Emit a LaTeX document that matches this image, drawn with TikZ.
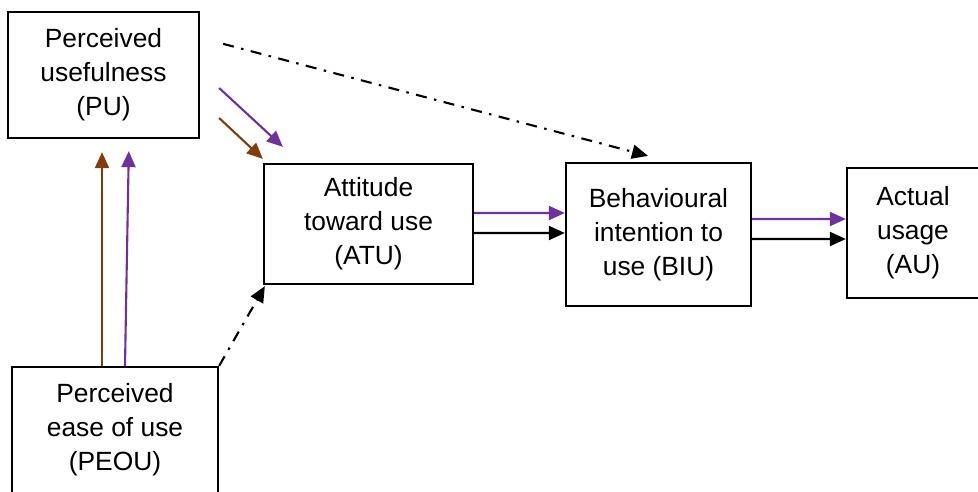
\documentclass[tikz,border=0pt]{standalone}
\usepackage{fontspec}
\setmainfont{Liberation Sans}
\usepackage{tikz}
\usetikzlibrary{arrows.meta,positioning}
\usepackage{xcolor}
\definecolor{tampurple}{RGB}{112,48,160}
\definecolor{tambrown}{RGB}{133,60,12}
\tikzstyle{construct} = [rectangle, draw=black, line width=1.3pt, align=center, inner sep=0pt, font=\fontsize{15}{19.3}\selectfont]
\tikzstyle{arrow} = [line width=1.2pt,-{Triangle[length=0.32cm,width=0.28cm]}]
\tikzstyle{dashdot} = [arrow, dash pattern=on 0.22cm off 0.15cm on 0.05cm off 0.15cm]

\begin{document}
\begin{tikzpicture}
\useasboundingbox (0,0) rectangle (19.56,-9.84);
% Constructs
\node (pu) [construct, minimum width=3.82cm, minimum height=2.52cm] at (2.07,-1.50) {Perceived\\usefulness\\(PU)};
\node (peou) [construct, minimum width=4.12cm, minimum height=2.52cm] at (2.30,-8.60) {Perceived\\ease of use\\(PEOU)};
\node (atu) [construct, minimum width=4.18cm, minimum height=2.40cm] at (7.37,-4.48) {Attitude\\toward use\\(ATU)};
\node (biu) [construct, minimum width=3.70cm, minimum height=2.86cm] at (13.17,-4.69) {Behavioural\\intention to\\use (BIU)};
\node (au) [construct, minimum width=2.64cm, minimum height=2.60cm] at (18.26,-4.66) {Actual\\usage\\(AU)};

% PEOU to PU
\draw[arrow, color=tambrown, shorten >=0.26cm] ([xshift=-0.26cm]peou.north) -- ([xshift=-0.03cm]pu.south);
\draw[arrow, color=tampurple, shorten >=0.24cm] ([xshift=0.20cm]peou.north) -- ([xshift=0.51cm]pu.south);

% PU to ATU
\draw[arrow, color=tambrown] ([shift={(0.38,-0.86)}]pu.east) -- ([shift={(0,0.08)}]atu.north west);
\draw[arrow, color=tampurple] ([shift={(0.38,-0.26)}]pu.east) -- ([shift={(0.40,0.32)}]atu.north west);

% Dash-dot paths
\draw[dashdot] ([shift={(0.46,-0.66)}]pu.north east) -- ([shift={(-0.21,0.12)}]biu.north);
\draw[dashdot] (peou.north east) -- ([shift={(0.04,-0.02)}]atu.south west);

% ATU to BIU
\draw[arrow, color=tampurple] ([yshift=0.22cm]atu.east) -- ([yshift=0.43cm]biu.west);
\draw[arrow] ([yshift=-0.18cm]atu.east) -- ([yshift=0.03cm]biu.west);

% BIU to AU
\draw[arrow, color=tampurple] ([yshift=0.31cm]biu.east) -- ([yshift=0.28cm]au.west);
\draw[arrow] ([yshift=-0.09cm]biu.east) -- ([yshift=-0.12cm]au.west);
\end{tikzpicture}
\end{document}
